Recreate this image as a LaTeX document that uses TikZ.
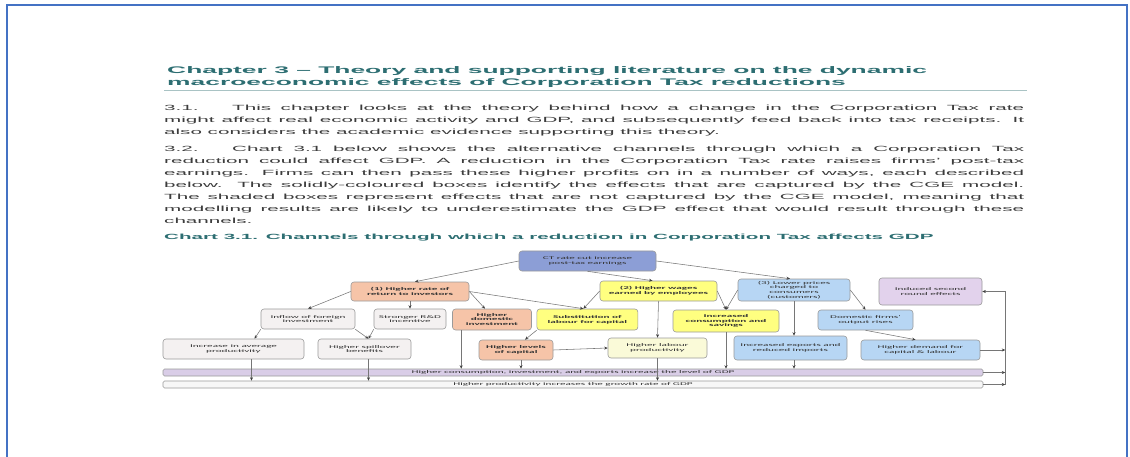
\documentclass[tikz,border=0pt]{standalone}
\usepackage{fontspec}
\setmainfont{Liberation Sans}[FakeStretch=2.75]
\newfontfamily\chartfont{Carlito}[FakeStretch=2.6]
\usetikzlibrary{positioning,calc,arrows.meta}
\definecolor{docFrame}{HTML}{4472C4}
\definecolor{docTeal}{HTML}{2D6E72}
\definecolor{docRule}{HTML}{A9C3C4}
\definecolor{docText}{HTML}{3C3C3C}
\definecolor{chartLine}{HTML}{767676}
\definecolor{chartTip}{HTML}{404040}
\definecolor{chartEdge}{HTML}{9A9A9A}
\definecolor{chartRoot}{HTML}{8C9ED6}
\definecolor{chartPeach}{HTML}{F6C4A8}
\definecolor{chartYellow}{HTML}{FFFF80}
\definecolor{chartPale}{HTML}{FAFAD8}
\definecolor{chartBlue}{HTML}{B7D6F4}
\definecolor{chartLilac}{HTML}{E2D2EC}
\definecolor{chartGrey}{HTML}{F4F1F1}
\definecolor{chartBar}{HTML}{D9CDE7}
\definecolor{chartBarPale}{HTML}{F7F7F7}
\tikzset{
  bodytext/.style={
    anchor=west, inner sep=0pt, text width=860pt, align=justify,
    font=\fontsize{7.5}{12.05}\selectfont, text=docText,
  },
  chartbox/.style={
    draw=chartEdge, line width=0.6pt, rounded corners=3pt,
    inner sep=0pt, align=center, text=black!80,
    font=\chartfont\fontsize{4.3}{4.7}\selectfont,
  },
  rootbox/.style={chartbox, fill=chartRoot},
  peachbox/.style={chartbox, fill=chartPeach, font=\chartfont\bfseries\fontsize{4.3}{4.7}\selectfont},
  yellowbox/.style={chartbox, fill=chartYellow, font=\chartfont\bfseries\fontsize{4.3}{4.7}\selectfont},
  palebox/.style={chartbox, fill=chartPale},
  bluebox/.style={chartbox, fill=chartBlue},
  lilacbox/.style={chartbox, fill=chartLilac},
  greybox/.style={chartbox, fill=chartGrey},
  barbox/.style={chartbox, rounded corners=1.5pt, minimum width=820pt, minimum height=7pt},
  arr/.style={
    -{Stealth[length=3.5pt, width=3pt, color=chartTip]},
    line width=0.55pt, draw=chartLine,
  },
}

\begin{document}
\begin{tikzpicture}[x=1pt, y=-1pt]
\useasboundingbox (0,0) rectangle (1130,457);

% --- PAGE FRAME ---
\draw[docFrame, line width=2pt] (7,457) -- (7,5.5) -- (1127,5.5) -- (1127,457);

% --- CHAPTER HEADING ---
\node[anchor=west, inner sep=0pt, align=left, text=docTeal,
      font=\bfseries\fontsize{9.6}{12.3}\selectfont]
  (title) at (167,76.8)
  {Chapter 3 – Theory and supporting literature on the dynamic\\
   macroeconomic effects of Corporation Tax reductions};
\draw[docRule, line width=1.5pt] (164,90.7) -- (1027,90.7);

% --- PARAGRAPHS ---
\node[bodytext] (para1) at (164,120.8)
  {\noindent\makebox[68pt][l]{3.1.}This chapter looks at the theory behind how a change in the Corporation Tax rate\linebreak
   might affect real economic activity and GDP, and subsequently feed back into tax receipts. It\linebreak
   also considers the academic evidence supporting this theory.};
\node[bodytext] (para2) at (164,184.5)
  {\noindent\makebox[68pt][l]{3.2.}Chart 3.1 below shows the alternative channels through which a Corporation Tax\linebreak
   reduction could affect GDP. A reduction in the Corporation Tax rate raises firms' post-tax\linebreak
   earnings. Firms can then pass these higher profits on in a number of ways, each described\linebreak
   below. The solidly-coloured boxes identify the effects that are captured by the CGE model.\linebreak
   The shaded boxes represent effects that are not captured by the CGE model, meaning that\linebreak
   modelling results are likely to underestimate the GDP effect that would result through these\linebreak
   channels.};

% --- CHART CAPTION ---
\node[anchor=west, inner sep=0pt, text=docTeal,
      font=\bfseries\fontsize{7.5}{9}\selectfont]
  (caption) at (164,237.3)
  {Chart 3.1. Channels through which a reduction in Corporation Tax affects GDP};

% --- TOP ROW ---
\node[rootbox, minimum width=137pt, minimum height=20pt] (ctcut) at (587.5,261)
  {CT rate cut increase\\post-tax earnings};
\node[peachbox, minimum width=118pt, minimum height=19pt] (ret) at (410,291.5)
  {(1) Higher rate of\\return to investors};
\node[yellowbox, minimum width=117pt, minimum height=20pt] (wage) at (658.5,291)
  {(2) Higher wages\\earned by employees};
\node[bluebox, minimum width=112pt, minimum height=22pt] (price) at (794,290)
  {(3) Lower prices\\charged to\\consumers\\(customers)};
\node[lilacbox, minimum width=103pt, minimum height=27pt] (induced) at (930.5,291.5)
  {Induced second\\round effects};

% --- MIDDLE ROW ---
\node[greybox, minimum width=94pt, minimum height=20pt] (inflow) at (308,319)
  {Inflow of foreign\\investment};
\node[greybox, minimum width=72pt, minimum height=20pt] (rnd) at (410,319)
  {Stronger R\&D\\incentive};
\node[peachbox, minimum width=79pt, minimum height=21pt] (domest) at (492,319.5)
  {Higher\\domestic\\investment};
\node[yellowbox, minimum width=101pt, minimum height=21pt] (subst) at (587.4,319.5)
  {Substitution of\\labour for capital};
\node[yellowbox, minimum width=106pt, minimum height=22pt] (consum) at (726,321)
  {Increased\\consumption and\\savings};
\node[bluebox, minimum width=95pt, minimum height=20pt] (domfirm) at (865.5,320)
  {Domestic firms'\\output rises};

% --- BOTTOM ROW ---
\node[greybox, minimum width=141pt, minimum height=20pt] (avgprod) at (233.5,349)
  {Increase in average\\productivity};
\node[greybox, minimum width=93pt, minimum height=20pt] (spill) at (364.5,349)
  {Higher spillover\\benefits};
\node[peachbox, minimum width=74pt, minimum height=20pt] (lvlcap) at (516,350)
  {Higher levels\\of capital};
\node[palebox, minimum width=99pt, minimum height=20pt] (labprod) at (657.5,348)
  {Higher labour\\productivity};
\node[bluebox, minimum width=113pt, minimum height=24pt] (export) at (790.5,348)
  {Increased exports and\\reduced imports};
\node[bluebox, minimum width=119pt, minimum height=20pt] (demand) at (920.5,350)
  {Higher demand for\\capital \& labour};

% --- GDP BARS ---
\node[barbox, fill=chartBar] (levelbar) at (573,372.5)
  {Higher consumption, investment, and exports increase the level of GDP};
\node[barbox, fill=chartBarPale] (growbar) at (573,384.5)
  {Higher productivity increases the growth rate of GDP};

% --- FIRST LEVEL ARROWS ---
\draw[arr] (ctcut.west) -- ($(ret.north)+(5,0)$);
\draw[arr] (ctcut.south) -- ($(wage.north)+(-6,0)$);
\draw[arr] (ctcut.east) -- ($(price.north)+(-4,0)$);

% --- CHANNEL (1) ---
\draw[arr] (ret.west) -- (inflow.north);
\draw[arr] (ret.south) -- (rnd.north);
\draw[arr] (ret.east) -- ($(domest.north)+(-7,0)$);
\draw[arr] (ret.east) -- ($(subst.north)+(-4,0)$);
\draw[arr] (inflow.south west) -- ($(avgprod.north)+(21,0)$);
\draw[arr] (inflow.south east) -- ($(spill.north)+(4,0)$);
\draw[arr] (rnd.south west) -- ($(spill.north)+(4,0)$);

% --- CHANNEL (2) ---
\draw[arr] (wage.west) -- ($(subst.north)+(-4,0)$);
\draw[arr] (wage.south) -- (labprod.north);
\draw[arr] (wage.east) -- (consum.north);
\draw[arr] (subst.south west) -- ($(lvlcap.north)+(9,0)$);
\draw[arr] (lvlcap.east) -- (labprod.west);

% --- CHANNEL (3) ---
\draw[arr] (price.west) -- (consum.north);
\draw[arr] (price.south) -- (price.south |- export.north);
\draw[arr] (price.east) -- (domfirm.north);
\draw[arr] (domfirm.south) -- ($(demand.north)+(-5,0)$);

% --- INTO THE GDP BARS ---
\coordinate (avgout) at ($(avgprod.south)+(18,0)$);
\coordinate (spillout) at ($(spill.south)+(4,0)$);
\coordinate (domestout) at ($(domest.south west)+(9,0)$);
\coordinate (lvlout) at ($(lvlcap.south)+(5,0)$);
\coordinate (exportout) at (price.south |- export.south);
\draw[arr] (avgout) -- (avgout |- growbar.north);
\draw[arr] (spillout) -- (spillout |- growbar.north);
\draw[arr] (domestout) -- (domestout |- levelbar.north);
\draw[arr] (lvlout) -- (lvlout |- levelbar.north);
\draw[arr] (labprod.south) -- (labprod.south |- growbar.north);
\draw[arr] (consum.south) -- (consum.south |- levelbar.north);
\draw[arr] (exportout) -- (exportout |- levelbar.north);

% --- FEEDBACK RAIL: demand and bars -> right rail -> induced effects ---
\coordinate (railtop) at ($(induced.east)+(23,0)$);
\draw[arr] (demand.east) -- (demand.east -| railtop);
\draw[arr] (levelbar.east) -- (levelbar.east -| railtop);
\draw[arr] (growbar.east) -- (growbar.east -| railtop);
\draw[arr] (growbar.east -| railtop) -- (railtop) -- (induced.east);

\end{tikzpicture}
\end{document}
